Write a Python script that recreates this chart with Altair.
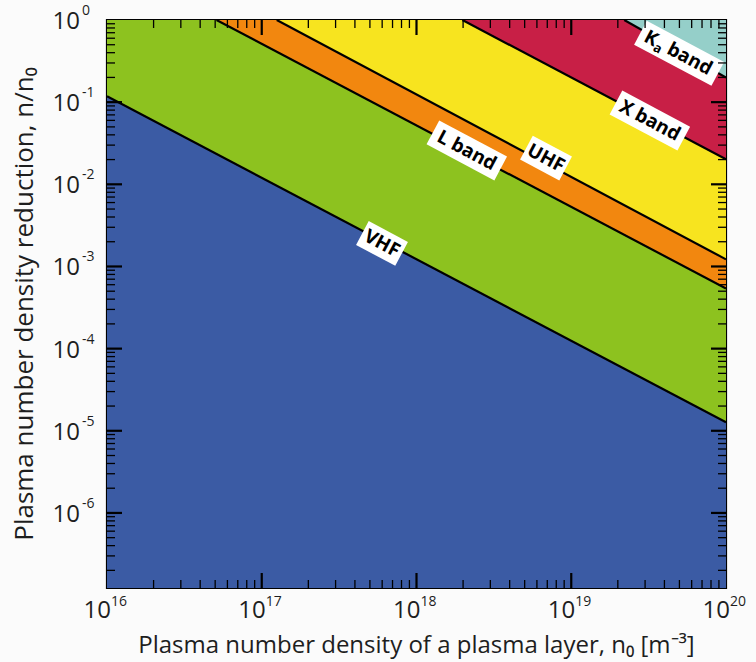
import altair as alt
import pandas as pd

# ---------------- data ----------------
boundary_names = ["VHF", "L band", "UHF", "X band", "Kₐ band"]
# each boundary line: start point (on left edge or top edge) and end point (right edge)
line_x_start = [1.0e16, 5.1e16, 1.25e17, 1.98e18, 2.2e19]
line_y_start = [0.118, 1.0, 1.0, 1.0, 1.0]
line_x_end = [1.0e20, 1.0e20, 1.0e20, 1.0e20, 1.0e20]
line_y_end = [1.27e-5, 5.4e-4, 1.22e-3, 2.02e-2, 0.20]

# region colours: below VHF, VHF..L, L..UHF, UHF..X, X..Ka, above Ka
region_colors = ["#3B5BA4", "#8DC21F", "#F2870F", "#F7E41F", "#C81F46", "#95CFC9"]

# label anchor points (data coordinates)
label_x = [10 ** 17.777, 10 ** 18.325, 10 ** 18.837, 10 ** 19.508, 10 ** 19.697]
label_y = [10 ** -2.72, 10 ** -1.588, 10 ** -1.681, 10 ** -1.224, 10 ** -0.405]

x_tick_values = [1e16, 1e17, 1e18, 1e19, 1e20]
x_tick_exponents = ["16", "17", "18", "19", "20"]
y_tick_values = [1e0, 1e-1, 1e-2, 1e-3, 1e-4, 1e-5, 1e-6]
y_tick_exponents = ["0", "-1", "-2", "-3", "-4", "-5", "-6"]

x_title = "Plasma number density of a plasma layer, n₀ [m⁻³]"
y_title = "Plasma number density reduction, n/n₀"

X_MIN, X_MAX = 1e16, 1e20
Y_MIN, Y_MAX = 1.22e-7, 1.0

# ---------------- layout ----------------
W, H = 619, 568
FONT = "Open Sans"
TXT = "#1e1e1e"
LFS = 19  # label font size

xs = alt.Scale(type="log", domain=[X_MIN, X_MAX], nice=False)
ys = alt.Scale(type="log", domain=[Y_MIN, Y_MAX], nice=False)
X = lambda f: alt.X(f, scale=xs, axis=None)
Y = lambda f, **k: alt.Y(f, scale=ys, axis=None, **k)

layers = []

# base region (below VHF)
base_df = pd.DataFrame({"x": [X_MIN, X_MAX], "y": [Y_MIN, Y_MIN], "y2": [Y_MAX, Y_MAX]})
layers.append(
    alt.Chart(base_df).mark_area(color=region_colors[0], clip=True).encode(
        x=X("x:Q"), y=Y("y:Q", stack=None), y2="y2:Q")
)

# regions above each boundary line
for i in range(len(boundary_names)):
    df = pd.DataFrame({
        "x": [line_x_start[i], line_x_end[i]],
        "y": [line_y_start[i], line_y_end[i]],
        "y2": [Y_MAX, Y_MAX],
    })
    layers.append(
        alt.Chart(df).mark_area(color=region_colors[i + 1], clip=True).encode(
            x=X("x:Q"), y=Y("y:Q", stack=None), y2="y2:Q")
    )

# boundary lines
rows = []
for i, n in enumerate(boundary_names):
    rows.append({"name": n, "x": line_x_start[i], "y": line_y_start[i], "o": 0})
    rows.append({"name": n, "x": line_x_end[i], "y": line_y_end[i], "o": 1})
lines_df = pd.DataFrame(rows)
layers.append(
    alt.Chart(lines_df).mark_line(color="black", strokeWidth=2.2, clip=True).encode(
        x=X("x:Q"), y=Y("y:Q"), detail="name:N", order="o:Q")
)

# label boxes + text
ANGLE = 28
box_h = 27
lab_rows = []
for i, n in enumerate(boundary_names):
    w = 10.8 * len(n) + 12
    r = box_h / w
    path = f"M-1,{-r:.4f}L1,{-r:.4f}L1,{r:.4f}L-1,{r:.4f}Z"
    lab_rows.append({"name": n, "x": label_x[i], "y": label_y[i], "path": path, "sz": w * w,
                     "sub": "ₐ" in n})
lab_df = pd.DataFrame(lab_rows)
layers.append(
    alt.Chart(lab_df).mark_point(filled=True, color="white", opacity=1, angle=ANGLE, strokeWidth=0).encode(
        x=X("x:Q"), y=Y("y:Q"),
        shape=alt.Shape("path:N", scale=None),
        size=alt.Size("sz:Q", scale=None),
    )
)
plain = lab_df[~lab_df["sub"]]
layers.append(
    alt.Chart(plain).mark_text(font=FONT, fontWeight="bold", fontSize=LFS, angle=ANGLE,
                               align="center", baseline="middle", color="black").encode(
        x=X("x:Q"), y=Y("y:Q"), text="name:N")
)
# label with subscript (K_a band): drawn in pieces along the rotated baseline
subd = lab_df[lab_df["sub"]].copy()
subd["p1"] = subd["name"].str.split("ₐ").str[0]
subd["p2"] = "a"
subd["p3"] = subd["name"].str.split("ₐ").str[1].str.strip()
txt_kw = dict(font=FONT, fontWeight="bold", angle=ANGLE, align="left", baseline="middle", color="black")
layers.append(alt.Chart(subd).mark_text(fontSize=LFS, dx=-38, **txt_kw).encode(
    x=X("x:Q"), y=Y("y:Q"), text="p1:N"))
layers.append(alt.Chart(subd).mark_text(fontSize=13, dx=-25, dy=6, **txt_kw).encode(
    x=X("x:Q"), y=Y("y:Q"), text="p2:N"))
layers.append(alt.Chart(subd).mark_text(fontSize=LFS, dx=-12, **txt_kw).encode(
    x=X("x:Q"), y=Y("y:Q"), text="p3:N"))

# tick marks (inward, all four sides)
x_major = x_tick_values[1:-1]
x_minor = [m * 10 ** e for e in range(16, 20) for m in range(2, 10)]
y_major = [v for v in y_tick_values if Y_MIN < v < Y_MAX]
y_minor = [m * 10.0 ** e for e in range(-7, 0) for m in range(2, 10) if Y_MIN < m * 10.0 ** e < Y_MAX]

def xticks(vals, L, sw):
    d = pd.DataFrame({"v": vals})
    bottom = alt.Chart(d).mark_rule(color="black", strokeWidth=sw).encode(
        x=X("v:Q"), y=alt.value(H), y2=alt.value(H - L))
    top = alt.Chart(d).mark_rule(color="black", strokeWidth=sw).encode(
        x=X("v:Q"), y=alt.value(0), y2=alt.value(L))
    return [bottom, top]

def yticks(vals, L, sw):
    d = pd.DataFrame({"v": vals})
    left = alt.Chart(d).mark_rule(color="black", strokeWidth=sw).encode(
        y=Y("v:Q"), x=alt.value(0), x2=alt.value(L))
    right = alt.Chart(d).mark_rule(color="black", strokeWidth=sw).encode(
        y=Y("v:Q"), x=alt.value(W), x2=alt.value(W - L))
    return [left, right]

layers += xticks(x_minor, 8, 1.3) + xticks(x_major, 15, 2.2)
layers += yticks(y_minor, 8, 1.3) + yticks(y_major, 15, 2.2)

# tick labels
xl = pd.DataFrame({"v": x_tick_values, "exp": x_tick_exponents, "base": ["10"] * len(x_tick_values)})
layers.append(alt.Chart(xl).mark_text(font=FONT, fontSize=24, align="right", baseline="alphabetic", dx=4, color=TXT).encode(
    x=X("v:Q"), y=alt.value(H + 30), text="base:N"))
layers.append(alt.Chart(xl).mark_text(font=FONT, fontSize=14, align="left", baseline="alphabetic", dx=4, color=TXT).encode(
    x=X("v:Q"), y=alt.value(H + 18), text="exp:N"))

yl = pd.DataFrame({"v": y_tick_values, "exp": y_tick_exponents, "base": ["10"] * len(y_tick_values)})
layers.append(alt.Chart(yl).mark_text(font=FONT, fontSize=24, align="right", baseline="middle", dy=2, color=TXT).encode(
    y=Y("v:Q"), x=alt.value(-27), text="base:N"))
layers.append(alt.Chart(yl).mark_text(font=FONT, fontSize=14, align="left", baseline="middle", dy=-9, color=TXT).encode(
    y=Y("v:Q"), x=alt.value(-25), text="exp:N"))

# axis titles
tdf = pd.DataFrame({"xt": [x_title], "yt": [y_title]})
layers.append(alt.Chart(tdf).mark_text(font=FONT, fontSize=24, align="center", baseline="alphabetic", color=TXT).encode(
    x=alt.value(W / 2), y=alt.value(H + 65), text="xt:N"))
layers.append(alt.Chart(tdf).mark_text(font=FONT, fontSize=26, align="center", baseline="middle", angle=270, color=TXT).encode(
    x=alt.value(-82), y=alt.value(H / 2), text="yt:N"))

chart = alt.layer(*layers).properties(
    width=W, height=H,
    padding={"left": 107, "top": 20, "right": 30, "bottom": 74},
    autosize=alt.AutoSizeParams(type="none"),
    background="#fbfbfb",
).configure_view(stroke="black", strokeWidth=2.2)

chart.save("out.html", embed_options={"renderer": "svg", "actions": False})
